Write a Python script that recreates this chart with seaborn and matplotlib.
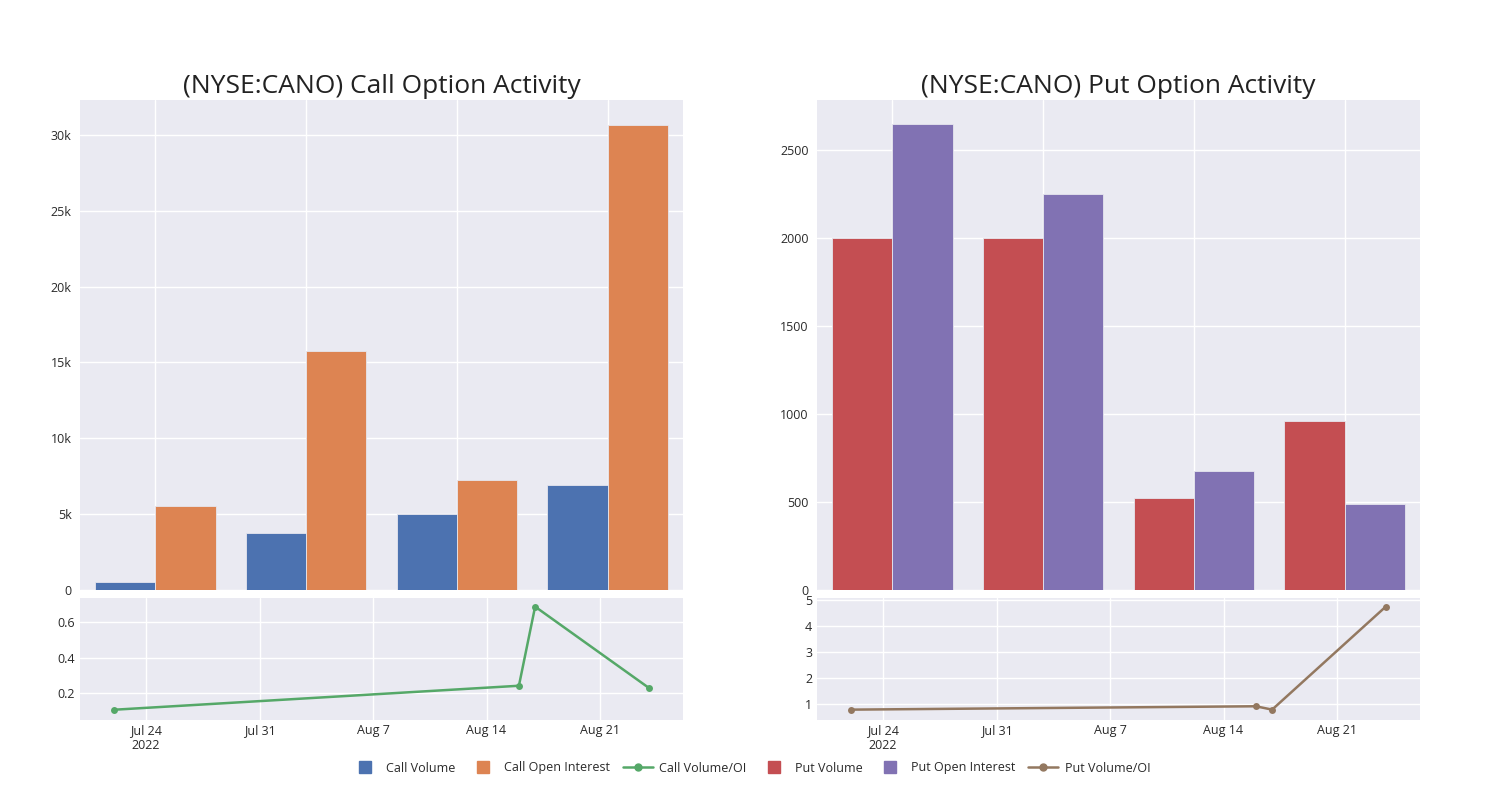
import matplotlib
matplotlib.use("Agg")
import matplotlib.pyplot as plt
import matplotlib.dates as mdates
from matplotlib.lines import Line2D
from matplotlib.ticker import FuncFormatter, FixedLocator
import seaborn as sns
import pandas as pd
import numpy as np

# ---- data ----
groups = ["G1", "G2", "G3", "G4"]
call_volume = [550, 3775, 4980, 6935]
call_oi = [5530, 15770, 7280, 30680]
put_volume = [2000, 2000, 522, 961]
put_oi = [2646, 2250, 677, 486]

ratio_dates = ["2022-07-22", "2022-08-16", "2022-08-17", "2022-08-24"]
call_ratio = [0.105, 0.241, 0.689, 0.23]
put_ratio = [0.77, 0.90, 0.77, 4.74]

date_ticks = ["2022-07-24", "2022-07-31", "2022-08-07", "2022-08-14", "2022-08-21"]
date_tick_labels = ["Jul 24\n2022", "Jul 31", "Aug 7", "Aug 14", "Aug 21"]

titles = ["(NYSE:CANO) Call Option Activity", "(NYSE:CANO) Put Option Activity"]

pal = sns.color_palette("deep")
c_blue, c_orange, c_green, c_red, c_purple, c_brown = pal[0], pal[1], pal[2], pal[3], pal[4], pal[5]

sns.set_theme(style="darkgrid", rc={"axes.facecolor": "#eaeaf2", "grid.color": "white"})
plt.rcParams["font.family"] = ["Open Sans", "DejaVu Sans"]

fig = plt.figure(figsize=(15, 8), dpi=100)
W, H = 1500, 800

def ax_px(x0, y0, x1, y1):
    return fig.add_axes([x0 / W, 1 - y1 / H, (x1 - x0) / W, (y1 - y0) / H])

axL = ax_px(80, 100, 683, 590)
axLb = ax_px(80, 598, 683, 720)
axR = ax_px(817, 100, 1420, 590)
axRb = ax_px(817, 598, 1420, 720)

def kfmt(v, pos):
    if v == 0:
        return "0"
    return f"{int(v/1000)}k"

def bars(ax, v1, v2, n1, n2, c1, c2, ymax, title, yticks, fmt=None):
    df = pd.DataFrame({
        "group": groups * 2,
        "value": list(v1) + list(v2),
        "series": [n1] * len(groups) + [n2] * len(groups),
    })
    sns.barplot(data=df, x="group", y="value", hue="series", palette=[c1, c2],
                width=0.8, ax=ax, edgecolor="#e6e6ee", linewidth=0.6,
                legend=False, errorbar=None, saturation=1)
    ax.set_xlim(-0.5, len(groups) - 0.5)
    ax.set_ylim(0, ymax)
    ax.set_xlabel("")
    ax.set_ylabel("")
    ax.set_xticks(range(len(groups)))
    ax.set_xticklabels([])
    ax.tick_params(axis="x", length=0)
    ax.xaxis.grid(True, color="white", linewidth=1)
    ax.yaxis.grid(True, color="white", linewidth=1)
    ax.set_axisbelow(True)
    ax.set_yticks(yticks)
    if fmt:
        ax.yaxis.set_major_formatter(FuncFormatter(fmt))
    ax.tick_params(axis="y", labelsize=9, length=0, pad=6)
    ax.set_title(title, fontsize=19, pad=5, color="#222222")
    for s in ax.spines.values():
        s.set_visible(False)

def ratio(ax, vals, color, ylim, yticks):
    df = pd.DataFrame({"date": pd.to_datetime(ratio_dates), "value": vals})
    sns.lineplot(data=df, x="date", y="value", ax=ax, color=color, linewidth=1.8,
                 marker="o", markersize=5, markeredgewidth=0)
    ax.set_xlim(pd.Timestamp("2022-07-19 22:00"), pd.Timestamp("2022-08-26 03:00"))
    ax.set_ylim(*ylim)
    ax.set_xticks(pd.to_datetime(date_ticks))
    ax.set_xticklabels(date_tick_labels)
    ax.set_yticks(yticks)
    ax.set_xlabel("")
    ax.set_ylabel("")
    ax.tick_params(axis="both", labelsize=9, length=0)
    ax.tick_params(axis="x", pad=3)
    for s in ax.spines.values():
        s.set_visible(False)

bars(axL, call_volume, call_oi, "Call Volume", "Call Open Interest", c_blue, c_orange,
     32300, titles[0], [0, 5000, 10000, 15000, 20000, 25000, 30000], kfmt)
bars(axR, put_volume, put_oi, "Put Volume", "Put Open Interest", c_red, c_purple,
     2783, titles[1], [0, 500, 1000, 1500, 2000, 2500])

ratio(axLb, call_ratio, c_green, (0.047, 0.738), [0.2, 0.4, 0.6])
ratio(axRb, put_ratio, c_brown, (0.37, 5.08), [1, 2, 3, 4, 5])
axLb.yaxis.set_major_formatter(FuncFormatter(lambda v, p: f"{v:.1f}"))

for a in (axL, axR, axLb, axRb):
    for t in a.get_xticklabels() + a.get_yticklabels():
        t.set_color("#2a2a2a")

handles = [
    Line2D([], [], marker="s", linestyle="none", markersize=9, color=c_blue),
    Line2D([], [], marker="s", linestyle="none", markersize=9, color=c_orange),
    Line2D([], [], marker="o", linestyle="-", markersize=5, linewidth=1.8, color=c_green),
    Line2D([], [], marker="s", linestyle="none", markersize=9, color=c_red),
    Line2D([], [], marker="s", linestyle="none", markersize=9, color=c_purple),
    Line2D([], [], marker="o", linestyle="-", markersize=5, linewidth=1.8, color=c_brown),
]
labels = ["Call Volume", "Call Open Interest", "Call Volume/OI",
          "Put Volume", "Put Open Interest", "Put Volume/OI"]
fig.legend(handles, labels, loc="center", bbox_to_anchor=(0.5, 1 - 768 / H), ncol=6,
           frameon=False, fontsize=9, handlelength=2.4, columnspacing=1.0,
           handletextpad=0.5, labelcolor="#2a2a2a")

fig.savefig("out.png", dpi=100, facecolor="white")
